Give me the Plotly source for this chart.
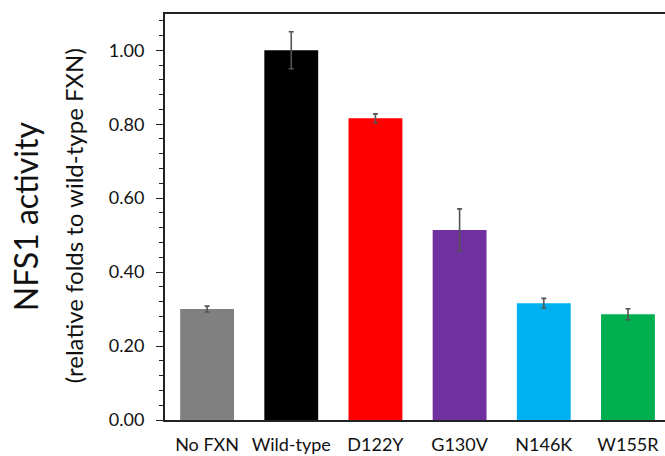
import plotly.graph_objects as go

categories = ["No FXN", "Wild-type", "D122Y", "G130V", "N146K", "W155R"]
values = [0.300, 1.000, 0.816, 0.514, 0.316, 0.286]
errors = [0.008, 0.050, 0.012, 0.057, 0.013, 0.015]
colors = ["#808080", "#000000", "#FF0000", "#7030A0", "#00B0F0", "#00B050"]
y_ticks = [0.0, 0.2, 0.4, 0.6, 0.8, 1.0]
y_tick_labels = ["0.00", "0.20", "0.40", "0.60", "0.80", "1.00"]

font_family = "Lato, Open Sans, sans-serif"
PLOT_L, PLOT_W = 165, 500

fig = go.Figure()
fig.add_trace(go.Bar(
    x=list(range(len(categories))),
    y=values,
    marker=dict(color=colors, line=dict(width=0)),
    error_y=dict(type="data", array=errors, visible=True,
                 color="#555555", thickness=1.6, width=2.5),
    width=0.64,
))

fig.update_layout(
    width=665, height=456,
    margin=dict(l=PLOT_L, r=0, t=14, b=36),
    plot_bgcolor="white", paper_bgcolor="white",
    showlegend=False,
    font=dict(family=font_family, color="#111111"),
    xaxis=dict(
        range=[-0.5, 5.44],
        tickmode="array",
        tickvals=list(range(len(categories))),
        ticktext=categories,
        tickfont=dict(size=18, family=font_family, color="#111111"),
        showline=True, linecolor="#222222", linewidth=2,
        mirror=True, ticks="", showgrid=False, zeroline=False,
        ticklabelstandoff=7,
    ),
    yaxis=dict(
        range=[0, 1.098],
        tickmode="array",
        tickvals=y_ticks,
        ticktext=y_tick_labels,
        tickfont=dict(size=18, family=font_family, color="#111111"),
        showline=True, linecolor="#222222", linewidth=2,
        ticks="outside", ticklen=7, tickwidth=1.2, tickcolor="#222222",
        minor=dict(dtick=0.04, tick0=0, ticks="outside", ticklen=4,
                   tickwidth=1.2, tickcolor="#222222", showgrid=False),
        showgrid=False, zeroline=False,
        ticklabelstandoff=8,
    ),
)

fig.add_annotation(
    text="NFS1 activity", xref="paper", yref="paper",
    x=(25 - PLOT_L) / PLOT_W, y=0.502, xanchor="center", yanchor="middle",
    textangle=-90, showarrow=False,
    font=dict(size=32, family=font_family, color="#111111"),
)
fig.add_annotation(
    text="(relative folds to wild-type FXN)", xref="paper", yref="paper",
    x=(73 - PLOT_L) / PLOT_W, y=0.502, xanchor="center", yanchor="middle",
    textangle=-90, showarrow=False,
    font=dict(size=24, family=font_family, color="#111111"),
)

fig.write_html("out.html")
